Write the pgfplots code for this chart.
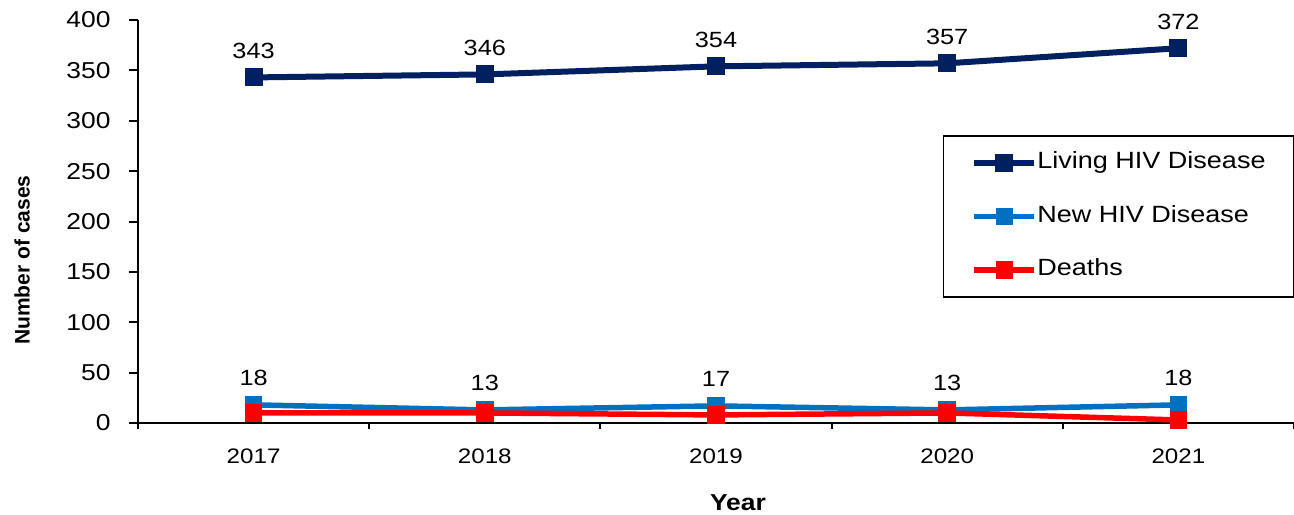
\documentclass[border=0pt]{standalone}
\usepackage{pgfplots}
\pgfplotsset{compat=1.18}
\usepackage{fontspec}
\setmainfont{Liberation Sans}
\usepackage{graphicx}
\newcommand{\sx}[1]{\scalebox{1.15}[1]{#1}}
\definecolor{living}{RGB}{0,32,96}
\definecolor{newhiv}{RGB}{0,112,192}
\definecolor{deaths}{RGB}{255,0,0}

\begin{document}
\begin{tikzpicture}
\begin{axis}[
  scale only axis,
  width=578pt, height=201.5pt,
  xmin=-0.5, xmax=4.5,
  ymin=0, ymax=400,
  clip=false,
  axis x line*=bottom, axis y line*=left,
  axis line style={line width=1pt, -},
  tick align=outside,
  major tick length=4.5pt,
  minor tick length=3pt,
  every tick/.append style={line width=1pt, black},
  every major x tick/.append style={draw=none},
  xtick={0,1,2,3,4},
  xticklabels={\sx{2017},\sx{2018},\sx{2019},\sx{2020},\sx{2021}},
  minor xtick={-0.5,0.5,1.5,2.5,3.5,4.5},
  ytick={0,50,100,150,200,250,300,350,400},
  yticklabels={\sx{0},\sx{50},\sx{100},\sx{150},\sx{200},\sx{250},\sx{300},\sx{350},\sx{400}},
  xticklabel style={font=\fontsize{10.5}{12}\selectfont, anchor=center, yshift=-12pt},
  yticklabel style={font=\fontsize{11.5}{13}\selectfont, anchor=east, inner sep=0pt, xshift=-9pt},
  xlabel={\sx{Year}},
  xlabel style={font=\bfseries\fontsize{11.5}{13}\selectfont, at={(axis description cs:0.519,0)}, anchor=center, yshift=-40pt},
  ylabel={Number of cases},
  ylabel style={font=\bfseries\fontsize{10.5}{12}\selectfont, at={(axis description cs:-0.1003,0.404)}, anchor=center},
  /pgf/number format/assume math mode=true,
  every node near coord/.append style={font=\fontsize{11}{13}\selectfont, anchor=center, yshift=13.25pt, black},
  legend style={at={(rel axis cs:1,0.714)}, anchor=north east, draw=black, line width=0.7pt,
    inner xsep=14pt, inner ysep=8pt, row sep=15.75pt,
    nodes={inner sep=0pt, text height=8.5pt, text depth=2.5pt},
    font=\fontsize{11.75}{13}\selectfont},
  legend cell align=left,
  legend image code/.code={\draw[mark repeat=2,mark phase=2,#1] plot coordinates {(0pt,0pt) (15pt,0pt) (30pt,0pt)};},
]
\coordinate (bl) at (rel axis cs:0,0);
\coordinate (tr) at (rel axis cs:1,1);

\addplot[color=living, line width=3pt, mark=square*, mark size=3pt,
  nodes near coords={\sx{\pgfmathprintnumber{\pgfplotspointmeta}}}]
  coordinates {(0,343) (1,346) (2,354) (3,357) (4,372)};
\addlegendentry{\makebox[114pt][l]{\sx{Living HIV Disease}}}

\addplot[color=newhiv, line width=2.75pt, mark=square*, mark size=3pt,
  nodes near coords={\sx{\pgfmathprintnumber{\pgfplotspointmeta}}}]
  coordinates {(0,18) (1,13) (2,17) (3,13) (4,18)};
\addlegendentry{\makebox[114pt][l]{\sx{New HIV Disease}}}

\addplot[color=deaths, line width=2.75pt, mark=square*, mark size=3pt]
  coordinates {(0,10) (1,10) (2,8) (3,10) (4,3)};
\addlegendentry{\makebox[114pt][l]{\sx{Deaths}}}
\end{axis}
\pgfresetboundingbox
\path[use as bounding box] ([shift={(-69pt,-45.5pt)}]bl) rectangle ([shift={(0pt,10pt)}]tr);
\end{tikzpicture}
\end{document}
